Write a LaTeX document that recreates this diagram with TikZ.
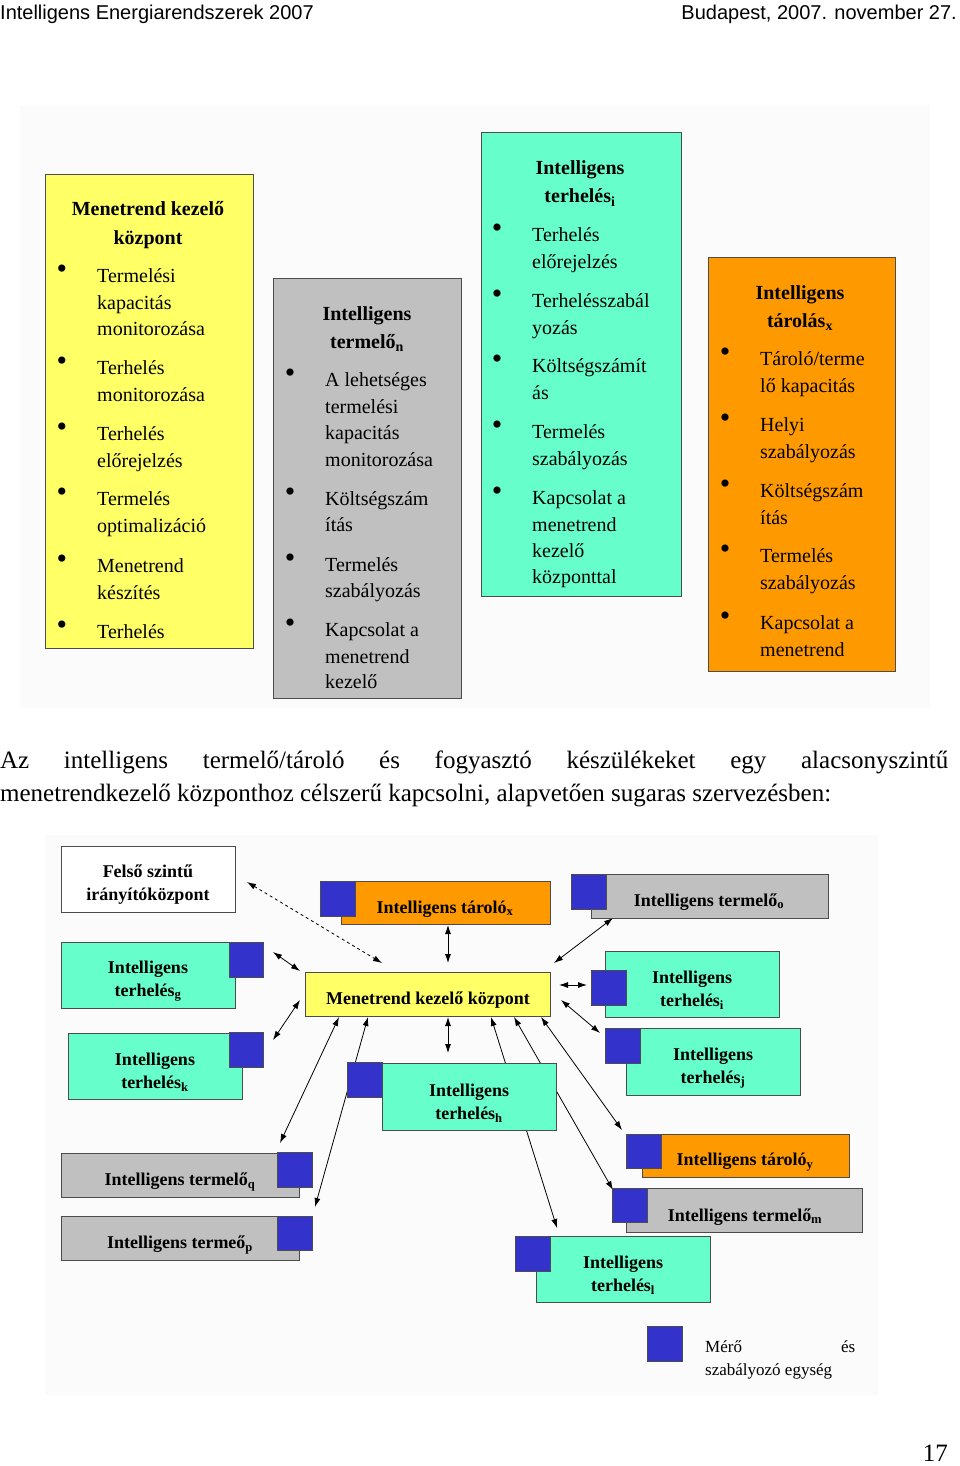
\documentclass[tikz,border=0pt]{standalone}
\usepackage{fontspec}
\usetikzlibrary{arrows.meta}
\setmainfont{Liberation Serif}
\newfontfamily\hdr{Liberation Sans}
\begin{document}
\begin{tikzpicture}[x=1pt,y=-1pt,
 tl/.style={anchor=base west,inner sep=0pt,font=\fontsize{20}{24}\selectfont},
 tc/.style={anchor=base,inner sep=0pt,font=\fontsize{20}{24}\selectfont\bfseries},
 bl/.style={anchor=center,inner sep=0pt,font=\fontsize{30}{30}\selectfont},
 bx/.style={draw=black!70,line width=0.8pt},
 bt/.style={anchor=center,align=center,inner sep=0pt,font=\fontsize{18}{23}\selectfont\bfseries},
 ar/.style={{Latex[length=9pt,width=6pt]}-{Latex[length=9pt,width=6pt]},line width=0.8pt}]
\definecolor{cy}{HTML}{66FFCC}\definecolor{ye}{HTML}{FFFF66}
\definecolor{gr}{HTML}{C0C0C0}\definecolor{or}{HTML}{FF9900}
\definecolor{bq}{HTML}{3333CC}
\tikzset{sq/.style={draw=black!70,fill=bq,line width=0.6pt}}
\useasboundingbox (0,0) rectangle (960,1466);
\fill[white] (0,0) rectangle (960,1466);
% header
\node[anchor=base west,inner sep=0pt,font=\hdr\fontsize{20}{22}\selectfont] (h1) at (0,20) {Intelligens Energiarendszerek 2007};
\node[anchor=base east,inner sep=0pt,font=\hdr\fontsize{20}{22}\selectfont] (h2) at (957,20) {Budapest, 2007. november 27.};
% top boxes
\fill[black!1.5] (20,105) rectangle (930,708);
\draw[bx,fill=ye] (45,174) rectangle (253,648);
\draw[bx,fill=gr] (273,278) rectangle (461,698);
\draw[bx,fill=cy] (481,132) rectangle (681,596);
\draw[bx,fill=or] (708,257) rectangle (895,671);
% yellow
\node[tc] (y0) at (148,215) {Menetrend kezelő};
\node[tc] (y1) at (148,244) {központ};
\foreach \b in {272,364,430,495,562,628}{\node[bl] at (62,\b) {\textbullet};}
\node[tl] (ya) at (97,282) {Termelési};
\node[tl] (yb) at (97,309) {kapacitás};
\node[tl] (yc) at (97,335) {monitorozása};
\node[tl] (yd) at (97,374) {Terhelés};
\node[tl] (ye) at (97,401) {monitorozása};
\node[tl] (yf) at (97,440) {Terhelés};
\node[tl] (yg) at (97,467) {előrejelzés};
\node[tl] (yh) at (97,505) {Termelés};
\node[tl] (yi) at (97,532) {optimalizáció};
\node[tl] (yj) at (97,572) {Menetrend};
\node[tl] (yk) at (97,599) {készítés};
\node[tl] (yl) at (97,638) {Terhelés};
% gray
\node[tc] (g0) at (367,320) {Intelligens};
\node[tc] (g1) at (367,348) {termelő$_{\mathbf n}$};
\foreach \b in {376,495,561,626}{\node[bl] at (290,\b) {\textbullet};}
\node[tl] (ga) at (325,386) {A lehetséges};
\node[tl] (gb) at (325,413) {termelési};
\node[tl] (gc) at (325,439) {kapacitás};
\node[tl] (gd) at (325,466) {monitorozása};
\node[tl] (ge) at (325,505) {Költségszám};
\node[tl] (gf) at (325,531) {ítás};
\node[tl] (gg) at (325,571) {Termelés};
\node[tl] (gh) at (325,597) {szabályozás};
\node[tl] (gi) at (325,636) {Kapcsolat a};
\node[tl] (gj) at (325,663) {menetrend};
\node[tl] (gk) at (325,688) {kezelő};
% cyan
\node[tc] (c0) at (580,175) {Intelligens};
\node[tc] (c1) at (580,203) {terhelés$_{\mathbf i}$};
\foreach \b in {231,297,362,428,494}{\node[bl] at (497,\b) {\textbullet};}
\node[tl] (ca) at (532,241) {Terhelés};
\node[tl] (cb) at (532,268) {előrejelzés};
\node[tl] (cc) at (532,307) {Terhelésszabál};
\node[tl] (cd) at (532,334) {yozás};
\node[tl] (ce) at (532,372) {Költségszámít};
\node[tl] (cf) at (532,399) {ás};
\node[tl] (cg) at (532,438) {Termelés};
\node[tl] (ch) at (532,465) {szabályozás};
\node[tl] (ci) at (532,504) {Kapcsolat a};
\node[tl] (cj) at (532,531) {menetrend};
\node[tl] (ck) at (532,557) {kezelő};
\node[tl] (cl) at (532,583) {központtal};
% orange
\node[tc] (o0) at (800,299) {Intelligens};
\node[tc] (o1) at (800,327) {tárolás$_{\mathbf x}$};
\foreach \b in {355,421,487,552,619}{\node[bl] at (725,\b) {\textbullet};}
\node[tl] (oa) at (760,365) {Tároló/terme};
\node[tl] (ob) at (760,392) {lő kapacitás};
\node[tl] (oc) at (760,431) {Helyi};
\node[tl] (od) at (760,458) {szabályozás};
\node[tl] (oe) at (760,497) {Költségszám};
\node[tl] (of) at (760,524) {ítás};
\node[tl] (og) at (760,562) {Termelés};
\node[tl] (oh) at (760,589) {szabályozás};
\node[tl] (oi) at (760,629) {Kapcsolat a};
\node[tl] (oj) at (760,656) {menetrend};
% paragraph
\node[anchor=base west,inner sep=0pt,font=\fontsize{25}{30}\selectfont] (p1) at (0,768) {\makebox[948pt][s]{Az intelligens termelő/tároló és fogyasztó készülékeket egy alacsonyszintű}};
\node[anchor=base west,inner sep=0pt,font=\fontsize{25}{30}\selectfont] (p2) at (0,801) {menetrendkezelő központhoz célszerű kapcsolni, alapvetően sugaras szervezésben:};
% bottom diagram background
\fill[black!1.5] (45,835) rectangle (878,1395);
% arrows (coordinates)
\coordinate (a1) at (247,882); \coordinate (a2) at (382,963);
\coordinate (b1) at (448,925); \coordinate (b2) at (448,963);
\coordinate (c1) at (613,918); \coordinate (c2) at (554,963);
\coordinate (d1) at (273,952); \coordinate (d2) at (300,971);
\coordinate (e1) at (300,1000); \coordinate (e2) at (273,1040);
\coordinate (f1) at (559,985); \coordinate (f2) at (587,985);
\coordinate (g1) at (561,1000); \coordinate (g2) at (600,1033);
\coordinate (k1) at (448,1017); \coordinate (k2) at (448,1053);
\coordinate (q1) at (339,1017); \coordinate (q2) at (280,1143);
\coordinate (r1) at (368,1017); \coordinate (r2) at (315,1207);
\coordinate (l1) at (491,1017); \coordinate (l2) at (557,1228);
\coordinate (m1) at (514,1017); \coordinate (m2) at (613,1190);
\coordinate (n1) at (541,1017); \coordinate (n2) at (622,1130);
\draw[ar,dashed] (a1) -- (a2);
\foreach \s/\t in {b1/b2,c1/c2,d1/d2,e1/e2,f1/f2,g1/g2,k1/k2,q1/q2,r1/r2,l1/l2,m1/m2,n1/n2}{\draw[ar] (\s) -- (\t);}
% boxes
\draw[bx,fill=white] (61,846) rectangle (235,912);
\node[bt] (felso) at (148,885) {Felső szintű\\irányítóközpont};
\draw[bx,fill=or] (341,881) rectangle (550,924); \draw[sq] (320,881) rectangle (355,916);
\node[bt] (tx) at (445,909) {Intelligens tároló$_{\mathbf x}$};
\draw[bx,fill=gr] (591,874) rectangle (828,918); \draw[sq] (571,874) rectangle (606,909);
\node[bt] (to) at (709,902) {Intelligens termelő$_{\mathbf o}$};
\draw[bx,fill=cy] (61,942) rectangle (235,1008); \draw[sq] (229,942) rectangle (263,977);
\node[bt] (tg) at (148,981) {Intelligens\\terhelés$_{\mathbf g}$};
\draw[bx,fill=ye] (305,972) rectangle (550,1016);
\node[bt] (mk) at (428,1000) {Menetrend kezelő központ};
\draw[bx,fill=cy] (605,951) rectangle (779,1017); \draw[sq] (591,970) rectangle (626,1005);
\node[bt] (ti) at (692,990) {Intelligens\\terhelés$_{\mathbf i}$};
\draw[bx,fill=cy] (68,1033) rectangle (242,1099); \draw[sq] (229,1032) rectangle (263,1067);
\node[bt] (tk) at (155,1072) {Intelligens\\terhelés$_{\mathbf k}$};
\draw[bx,fill=cy] (626,1028) rectangle (800,1095); \draw[sq] (605,1028) rectangle (640,1063);
\node[bt] (tj) at (713,1068) {Intelligens\\terhelés$_{\mathbf j}$};
\draw[bx,fill=cy] (382,1063) rectangle (556,1130); \draw[sq] (347,1062) rectangle (382,1097);
\node[bt] (th) at (469,1103) {Intelligens\\terhelés$_{\mathbf h}$};
\draw[bx,fill=gr] (61,1153) rectangle (299,1197); \draw[sq] (277,1152) rectangle (312,1187);
\node[bt] (tq) at (180,1182) {Intelligens termelő$_{\mathbf q}$};
\draw[bx,fill=or] (642,1134) rectangle (849,1177); \draw[sq] (626,1134) rectangle (661,1168);
\node[bt] (ty) at (745,1162) {Intelligens tároló$_{\mathbf y}$};
\draw[bx,fill=gr] (61,1216) rectangle (299,1260); \draw[sq] (277,1216) rectangle (312,1250);
\node[bt] (tp) at (180,1245) {Intelligens termeő$_{\mathbf p}$};
\draw[bx,fill=gr] (626,1188) rectangle (862,1232); \draw[sq] (612,1188) rectangle (647,1222);
\node[bt] (tm) at (745,1217) {Intelligens termelő$_{\mathbf m}$};
\draw[bx,fill=cy] (536,1236) rectangle (710,1302); \draw[sq] (515,1236) rectangle (550,1271);
\node[bt] (tl2) at (623,1275) {Intelligens\\terhelés$_{\mathbf l}$};
% legend
\draw[sq] (647,1326) rectangle (682,1361);
\node[anchor=base west,inner sep=0pt,font=\fontsize{17}{23}\selectfont] (lg1) at (705,1352) {\makebox[150pt][s]{Mérő és}};
\node[anchor=base west,inner sep=0pt,font=\fontsize{17}{23}\selectfont] (lg2) at (705,1375) {szabályozó egység};
\node[anchor=base east,inner sep=0pt,font=\fontsize{25}{30}\selectfont] (pn) at (948,1461) {17};
\end{tikzpicture}
\end{document}
